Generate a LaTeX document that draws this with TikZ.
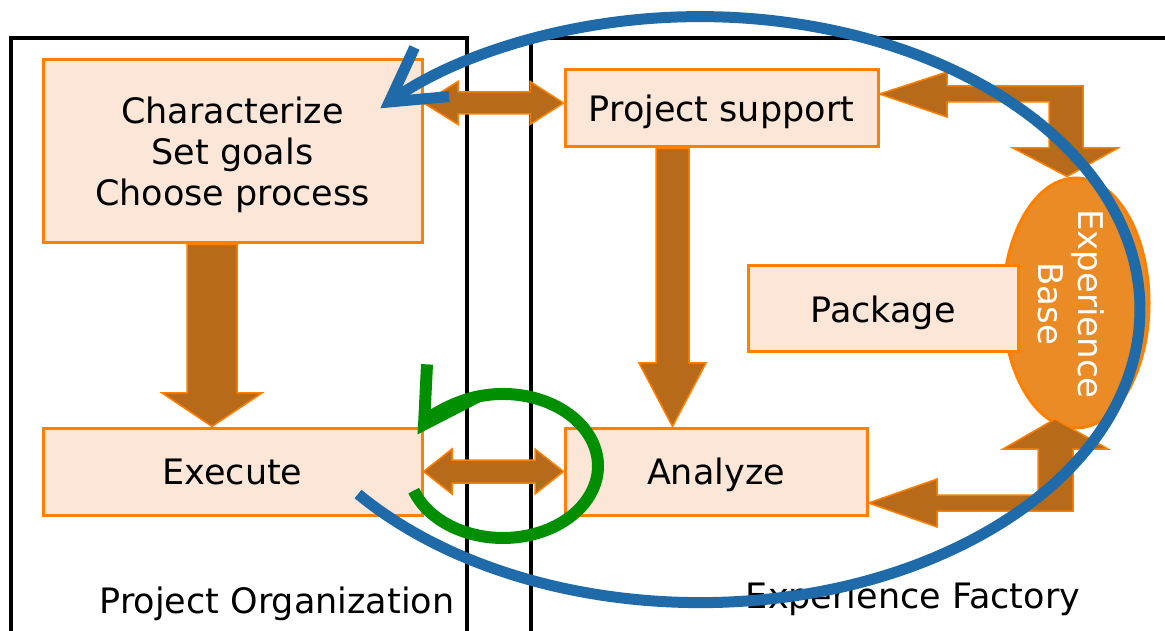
\documentclass[tikz,border=0pt]{standalone}
\usepackage{fontspec}
\setmainfont{DejaVu Sans}
\usetikzlibrary{shapes.geometric,arrows.meta}

\definecolor{boxfill}{HTML}{FBE6D8}
\definecolor{boxline}{HTML}{FF8000}
\definecolor{blockfill}{HTML}{B86A1B}
\definecolor{basefill}{HTML}{EA8B26}
\definecolor{loopblue}{HTML}{1F6BAA}
\definecolor{loopgreen}{HTML}{008F00}

\begin{document}
\begin{tikzpicture}[x=1pt,y=1pt]

\tikzset{BoxStyle/.style = {draw=boxline, fill=boxfill, line width=3pt, align=center,
                            inner sep=0pt, text depth=0pt, font=\fontsize{35}{41}\selectfont},
         BaseStyle/.style = {ellipse, draw=boxline, fill=basefill, line width=3pt, inner sep=0pt},
         BlockStyle/.style = {draw=boxline, fill=blockfill, line width=1.5pt, line join=miter},
         FrameStyle/.style = {draw=black, line width=4pt},
         BlueLoop/.style = {draw=loopblue, line width=11pt,
                            -{Straight Barb[length=52pt,width=60pt,line join=miter]}},
         GreenLoop/.style = {draw=loopgreen, line width=12pt,
                            -{Straight Barb[length=52pt,width=60pt,line join=miter]}}}

\useasboundingbox (0,0) rectangle (1165,630);

\draw[FrameStyle] (11,-10) -- (11,592) -- (467,592) -- (467,-10);
\draw[FrameStyle] (531,-10) -- (531,592) -- (1180,592);

\node[font=\fontsize{35}{41}\selectfont, anchor=base] (po) at (277,17) {Project Organization};
\node[font=\fontsize{35}{41}\selectfont, anchor=base] (ef) at (913,22) {Experience Factory};

\node[BaseStyle, minimum width=146pt, minimum height=250pt] (eb) at (1076,327) {};
\node[text=white, rotate=-90, align=center, font=\fontsize{34}{40}\selectfont] (ebl) at (1071,326) {Experience\\Base};

\node[BoxStyle, minimum width=379pt, minimum height=183pt] (char) at (232.5,478.5) {Characterize\\Set goals\\Choose process};
\node[BoxStyle, minimum width=313pt, minimum height=77pt] (ps) at (721.5,521.5) {Project support};
\node[BoxStyle, minimum width=270pt, minimum height=86pt] (pkg) at (883,321) {Package};
\node[BoxStyle, minimum width=379pt, minimum height=87pt] (exe) at (232.5,158.5) {Execute};
\node[BoxStyle, minimum width=302pt, minimum height=87pt] (ana) at (716,158.5) {Analyze};

\filldraw[BlockStyle] (char.south -| 187,0) -- (187,237) -- (162,237) -- (exe.north -| 212,0)
  -- (262,237) -- (237,237) -- (char.south -| 237,0) -- cycle;
\filldraw[BlockStyle] (ps.south -| 656,0) -- (656,267) -- (639,267) -- (ana.north -| 672.5,0)
  -- (706,267) -- (689,267) -- (ps.south -| 689,0) -- cycle;
\filldraw[BlockStyle] (char.east |- 0,527) -- (458,548.5) -- (458,538) -- (530,538) -- (530,548.5)
  -- (ps.west |- 0,527) -- (530,505.5) -- (530,516) -- (458,516) -- (458,505.5) -- cycle;
\filldraw[BlockStyle] (exe.east) -- (452,181) -- (452,170) -- (535,170) -- (535,181)
  -- (ana.west) -- (535,136) -- (535,147) -- (452,147) -- (452,136) -- cycle;
\filldraw[BlockStyle] (ps.east |- 0,536) -- (947,558) -- (947,544) -- (1083,544) -- (1083,482)
  -- (1118,482) -- (eb.north -| 1067,0) -- (1013,482) -- (1049,482) -- (1049,528)
  -- (947,528) -- (947,513) -- cycle;
\filldraw[BlockStyle] (ana.east |- 0,127) -- (937,151) -- (937,135) -- (1038,135) -- (1038,181)
  -- (1003,181) -- (1055,211) -- (1108,181) -- (1073,181) -- (1073,119) -- (937,119)
  -- (937,103) -- cycle;

\draw[BlueLoop] (358,136) arc[start angle=-141, end angle=136.6, x radius=440pt, y radius=293pt];
\draw[GreenLoop] (413.7,139.4) arc[start angle=-160, end angle=154, x radius=95pt, y radius=72pt];

\end{tikzpicture}
\end{document}
